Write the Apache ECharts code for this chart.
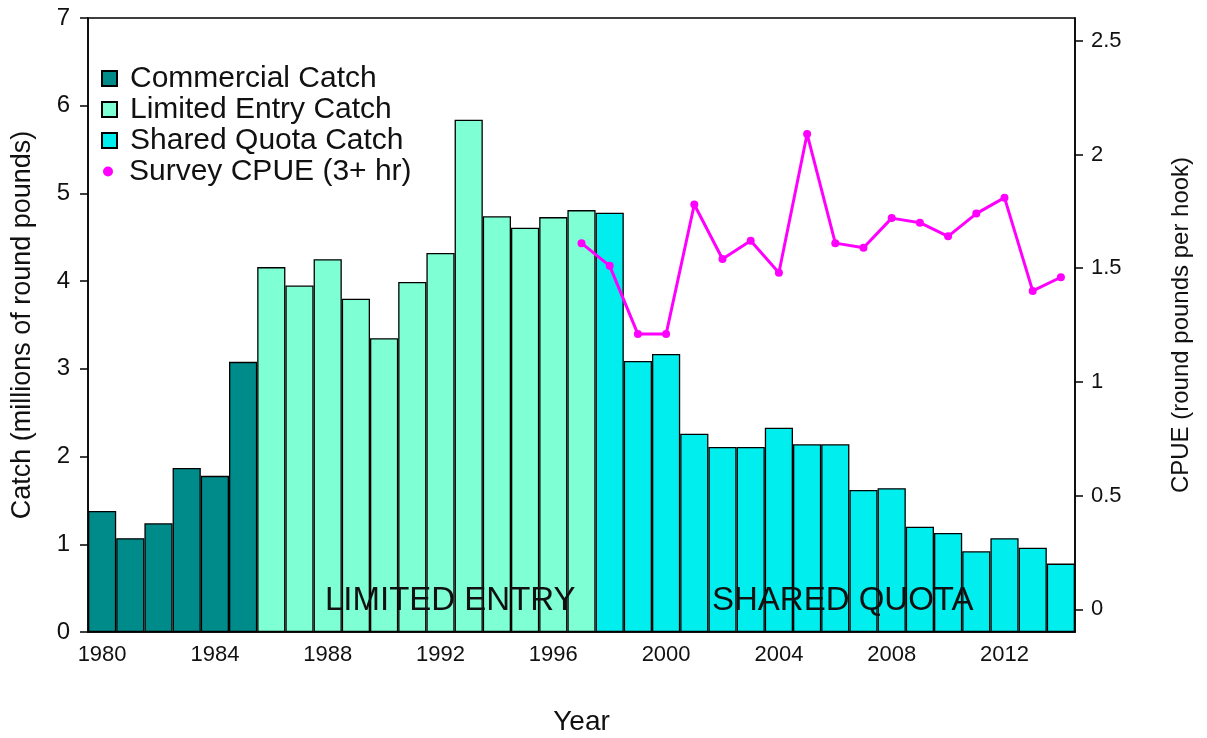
<!DOCTYPE html>
<html>
<head>
<meta charset="utf-8">
<script src="https://cdn.jsdelivr.net/npm/echarts@6/dist/echarts.min.js"></script>
<style>
  html, body { margin: 0; padding: 0; background: #fff; }
  #main { width: 1207px; height: 738px; }
</style>
</head>
<body>
<div id="main"></div>
<script>
// years 1980-2014
var years = [];
for (var y = 1980; y <= 2014; y++) years.push(String(y));

// catch, millions of round pounds
var commercialCatch = [1.38, 1.07, 1.24, 1.87, 1.78, 3.08];
var limitedEntryCatch = [4.16, 3.95, 4.25, 3.80, 3.35, 3.99, 4.32, 5.84, 4.74, 4.61, 4.73, 4.81];
var sharedQuotaCatch = [4.78, 3.09, 3.17, 2.26, 2.11, 2.11, 2.33, 2.14, 2.14, 1.62, 1.64, 1.20, 1.13, 0.92, 1.07, 0.96, 0.78];

// survey CPUE 1997-2014
var cpue = [1.61, 1.51, 1.21, 1.21, 1.78, 1.54, 1.62, 1.48, 2.09, 1.61, 1.59, 1.72, 1.70, 1.64, 1.74, 1.81, 1.40, 1.46];

var rightTicks = [0, 0.5, 1, 1.5, 2, 2.5];

// pad each block out to the full year range
function place(values, startYear) {
  var out = years.map(function () { return null; });
  var s = years.indexOf(String(startYear));
  values.forEach(function (v, i) { out[s + i] = v; });
  return out;
}

var font = 'Liberation Sans, Arial, sans-serif';
var ink = '#111';
var barBorder = { borderColor: '#000', borderWidth: 1.3 };

var chart = echarts.init(document.getElementById('main'));

var option = {
  animation: false,
  textStyle: { fontFamily: font, color: ink },
  grid: {
    left: 88, right: 132, top: 18, bottom: 106,
    outerBoundsMode: 'none',
    show: true, borderColor: '#000', borderWidth: 1.5
  },
  legend: [{
    data: ['Commercial Catch', 'Limited Entry Catch', 'Shared Quota Catch'],
    orient: 'vertical',
    left: 96, top: 58,
    icon: 'rect',
    itemWidth: 15, itemHeight: 15,
    itemGap: 0,
    selectedMode: false,
    textStyle: { fontSize: 30, color: ink, fontFamily: font, lineHeight: 31, padding: [0, 0, 0, 8] }
  }, {
    data: ['Survey CPUE (3+ hr)'],
    orient: 'vertical',
    left: 98, top: 151,
    icon: 'circle',
    itemWidth: 10, itemHeight: 10,
    selectedMode: false,
    textStyle: { fontSize: 30, color: ink, fontFamily: font, lineHeight: 31, padding: [0, 0, 0, 11] }
  }],
  xAxis: {
    type: 'category',
    data: years,
    name: 'Year',
    nameLocation: 'middle',
    nameGap: 76,
    nameTextStyle: { fontSize: 28, color: ink, fontFamily: font },
    axisLine: { lineStyle: { color: '#000', width: 1.5 } },
    axisTick: { alignWithLabel: true, interval: 1, length: 10, lineStyle: { color: '#000', width: 1.5 } },
    axisLabel: { interval: 3, fontSize: 22, color: ink, margin: 12 }
  },
  yAxis: [{
    type: 'value',
    min: 0, max: 7, interval: 1,
    name: 'Catch (millions of round pounds)',
    nameLocation: 'middle',
    nameGap: 52,
    nameTextStyle: { fontSize: 27, color: ink, fontFamily: font },
    axisLine: { show: true, lineStyle: { color: '#000', width: 1.5 } },
    axisTick: { show: true, length: 8, lineStyle: { color: '#000', width: 1.5 } },
    axisLabel: { fontSize: 24, color: ink, margin: 18 },
    splitLine: { show: false }
  }, {
    type: 'value',
    min: -0.1, max: 2.6,
    position: 'right',
    name: 'CPUE (round pounds per hook)',
    nameLocation: 'middle',
    nameGap: 94,
    nameTextStyle: { fontSize: 24, color: ink, fontFamily: font },
    axisLine: { show: true, lineStyle: { color: '#000', width: 1.5 } },
    axisTick: { show: true, length: 8, customValues: rightTicks, lineStyle: { color: '#000', width: 1.5 } },
    axisLabel: { fontSize: 22, color: ink, margin: 16, customValues: rightTicks,
      formatter: function (v) { return String(Math.round(v * 10) / 10); } },
    splitLine: { show: false }
  }],
  series: [{
    name: 'Commercial Catch',
    type: 'bar',
    stack: 'catch',
    barCategoryGap: '0%',
    data: place(commercialCatch, 1980),
    itemStyle: Object.assign({ color: '#008b8b' }, barBorder)
  }, {
    name: 'Limited Entry Catch',
    type: 'bar',
    stack: 'catch',
    barCategoryGap: '0%',
    data: place(limitedEntryCatch, 1986),
    itemStyle: Object.assign({ color: '#7fffd4' }, barBorder)
  }, {
    name: 'Shared Quota Catch',
    type: 'bar',
    stack: 'catch',
    barCategoryGap: '0%',
    data: place(sharedQuotaCatch, 1998),
    itemStyle: Object.assign({ color: '#00eeee' }, barBorder)
  }, {
    name: 'Survey CPUE (3+ hr)',
    type: 'line',
    yAxisIndex: 1,
    data: place(cpue, 1997),
    symbol: 'circle',
    symbolSize: 8,
    z: 5,
    lineStyle: { color: '#ff00ff', width: 3 },
    itemStyle: { color: '#ff00ff' }
  }],
  graphic: [{
    type: 'text', left: 325, top: 584, z: 10,
    style: { text: 'LIMITED ENTRY', font: '33px ' + font, fill: ink }
  }, {
    type: 'text', left: 712, top: 584, z: 10,
    style: { text: 'SHARED QUOTA', font: '33px ' + font, fill: ink }
  }]
};

chart.setOption(option);
</script>
</body>
</html>
